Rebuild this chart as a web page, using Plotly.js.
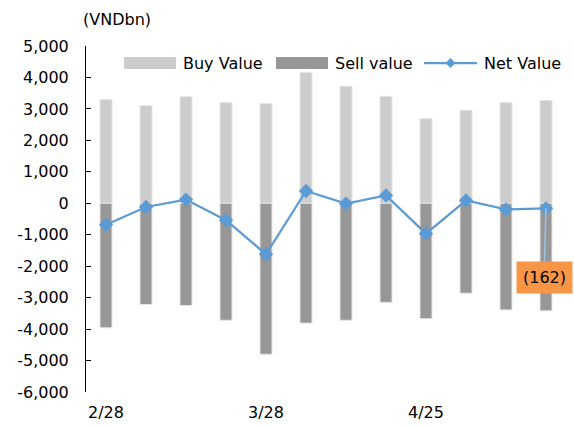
<!DOCTYPE html>
<html>
<head>
<meta charset="utf-8">
<script src="https://cdn.plot.ly/plotly-3.0.1.min.js"></script>
<style>html,body{margin:0;padding:0;background:#fff;}#chart{width:574px;height:427px;}</style>
</head>
<body>
<div id="chart"></div>
<script>
const categories = ["2/28","3/7","3/14","3/21","3/28","4/4","4/11","4/18","4/25","5/2","5/9","5/16"];
const tickLabels = ["2/28","3/28","4/25"];
const buyValue  = [3300, 3110, 3390, 3200, 3170, 4160, 3720, 3400, 2690, 2960, 3200, 3270];
const sellValue = [-3960, -3220, -3250, -3720, -4800, -3810, -3720, -3150, -3670, -2860, -3390, -3420];
const netValue  = [-680, -118, 118, -540, -1620, 390, -10, 250, -965, 90, -195, -162];
const seriesNames = ["Buy Value", "Sell value", "Net Value"];
const yTicks = [5000,4000,3000,2000,1000,0,-1000,-2000,-3000,-4000,-5000,-6000];

const FONT = "DejaVu Sans, Verdana, sans-serif";
const buyColor = "#CCCCCC", sellColor = "#979797", netColor = "#5B9BD5";

function fmt(v){ const s = Math.abs(v).toLocaleString("en-US"); return v < 0 ? "-" + s : s; }
function paren(v){ const s = Math.abs(v).toLocaleString("en-US"); return v < 0 ? "(" + s + ")" : s; }

const traces = [
  {type:"bar", x:categories, y:buyValue, name:seriesNames[0], marker:{color:buyColor, line:{color:"#E6E6E6", width:1}}, width:0.3, showlegend:false},
  {type:"bar", x:categories, y:sellValue, name:seriesNames[1], marker:{color:sellColor, line:{color:"#E6E6E6", width:1}}, width:0.3, showlegend:false},
  {type:"scatter", mode:"lines+markers", x:categories, y:netValue, name:seriesNames[2], line:{color:netColor, width:2.25}, marker:{symbol:"diamond", size:11, color:netColor}, showlegend:false}
];

const last = netValue.length - 1;
const shapes = [];
const annotations = [];
// custom legend
const legendItems = [
  {x0:124, x1:176, tx:181, kind:"bar", color:buyColor, name:seriesNames[0]},
  {x0:276, x1:328, tx:333, kind:"bar", color:sellColor, name:seriesNames[1]},
  {x0:424, x1:477, tx:482, kind:"line", color:netColor, name:seriesNames[2]}
];
const W = 574, H = 427, mL = 86, mR = 8, mT = 46, mB = 35;
const pw = W - mL - mR, ph = H - mT - mB;
function px(x){ return (x - mL) / pw; }
function py(y){ return 1 - (y - mT) / ph; }
const legY = 63;
legendItems.forEach(it => {
  if (it.kind === "bar") {
    shapes.push({type:"rect", xref:"paper", yref:"paper", x0:px(it.x0), x1:px(it.x1), y0:py(legY+6), y1:py(legY-6), fillcolor:it.color, line:{width:0}});
  } else {
    shapes.push({type:"line", xref:"paper", yref:"paper", x0:px(it.x0), x1:px(it.x1), y0:py(legY), y1:py(legY), line:{color:it.color, width:2.25}});
    const cx = (it.x0 + it.x1)/2;
    shapes.push({type:"path", xref:"paper", yref:"paper",
      path:`M ${px(cx)} ${py(legY-5)} L ${px(cx+5)} ${py(legY)} L ${px(cx)} ${py(legY+5)} L ${px(cx-5)} ${py(legY)} Z`,
      fillcolor:it.color, line:{width:0}});
  }
  annotations.push({xref:"paper", yref:"paper", x:px(it.tx), y:py(legY), xanchor:"left", yanchor:"middle", text:it.name, showarrow:false, font:{family:FONT, size:16, color:"#000"}});
});
annotations.push({xref:"paper", yref:"paper", x:px(81), y:py(19), xanchor:"left", yanchor:"middle", text:"(VNDbn)", showarrow:false, font:{family:FONT, size:16, color:"#000"}});
annotations.push({x:categories[last], y:netValue[last], xref:"x", yref:"y", text:paren(netValue[last]), showarrow:true, arrowhead:0, arrowwidth:1.5, arrowcolor:"#9DC3E6", ax:-2, ay:69, bgcolor:"#F79646", borderpad:6, font:{family:FONT, size:16, color:"#000"}});

const layout = {
  width: W, height: H,
  margin: {l:mL, r:mR, t:mT, b:mB, pad:0},
  paper_bgcolor:"#fff", plot_bgcolor:"#fff",
  barmode:"relative", bargap:0,
  showlegend:false,
  font:{family:FONT, size:16, color:"#000"},
  xaxis:{type:"category", categoryorder:"array", categoryarray:categories, range:[-0.5, 11.5], tickvals:tickLabels, ticktext:tickLabels, ticks:"", showline:false, showgrid:false, zeroline:false, tickfont:{family:FONT, size:16, color:"#000"}, ticklabelstandoff:9},
  xaxis2:{overlaying:"x", anchor:"free", position:6/11, range:[-0.5, 11.5], showgrid:false, zeroline:false, showline:true, linecolor:"#404040", linewidth:1, ticks:"inside", ticklen:6, tickcolor:"#404040", tickvals:[3.5, 7.5, 11.5], showticklabels:false},
  yaxis:{range:[-6000, 5000], tickvals:yTicks, ticktext:yTicks.map(fmt), showgrid:false, zeroline:false, showline:true, linecolor:"#000", linewidth:1, ticks:"inside", ticklen:5, tickcolor:"#000", tickfont:{family:FONT, size:16, color:"#000"}, ticklabelstandoff:13},
  shapes: shapes,
  annotations: annotations
};

Plotly.newPlot("chart", traces, layout, {displayModeBar:false, staticPlot:true});
</script>
</body>
</html>
